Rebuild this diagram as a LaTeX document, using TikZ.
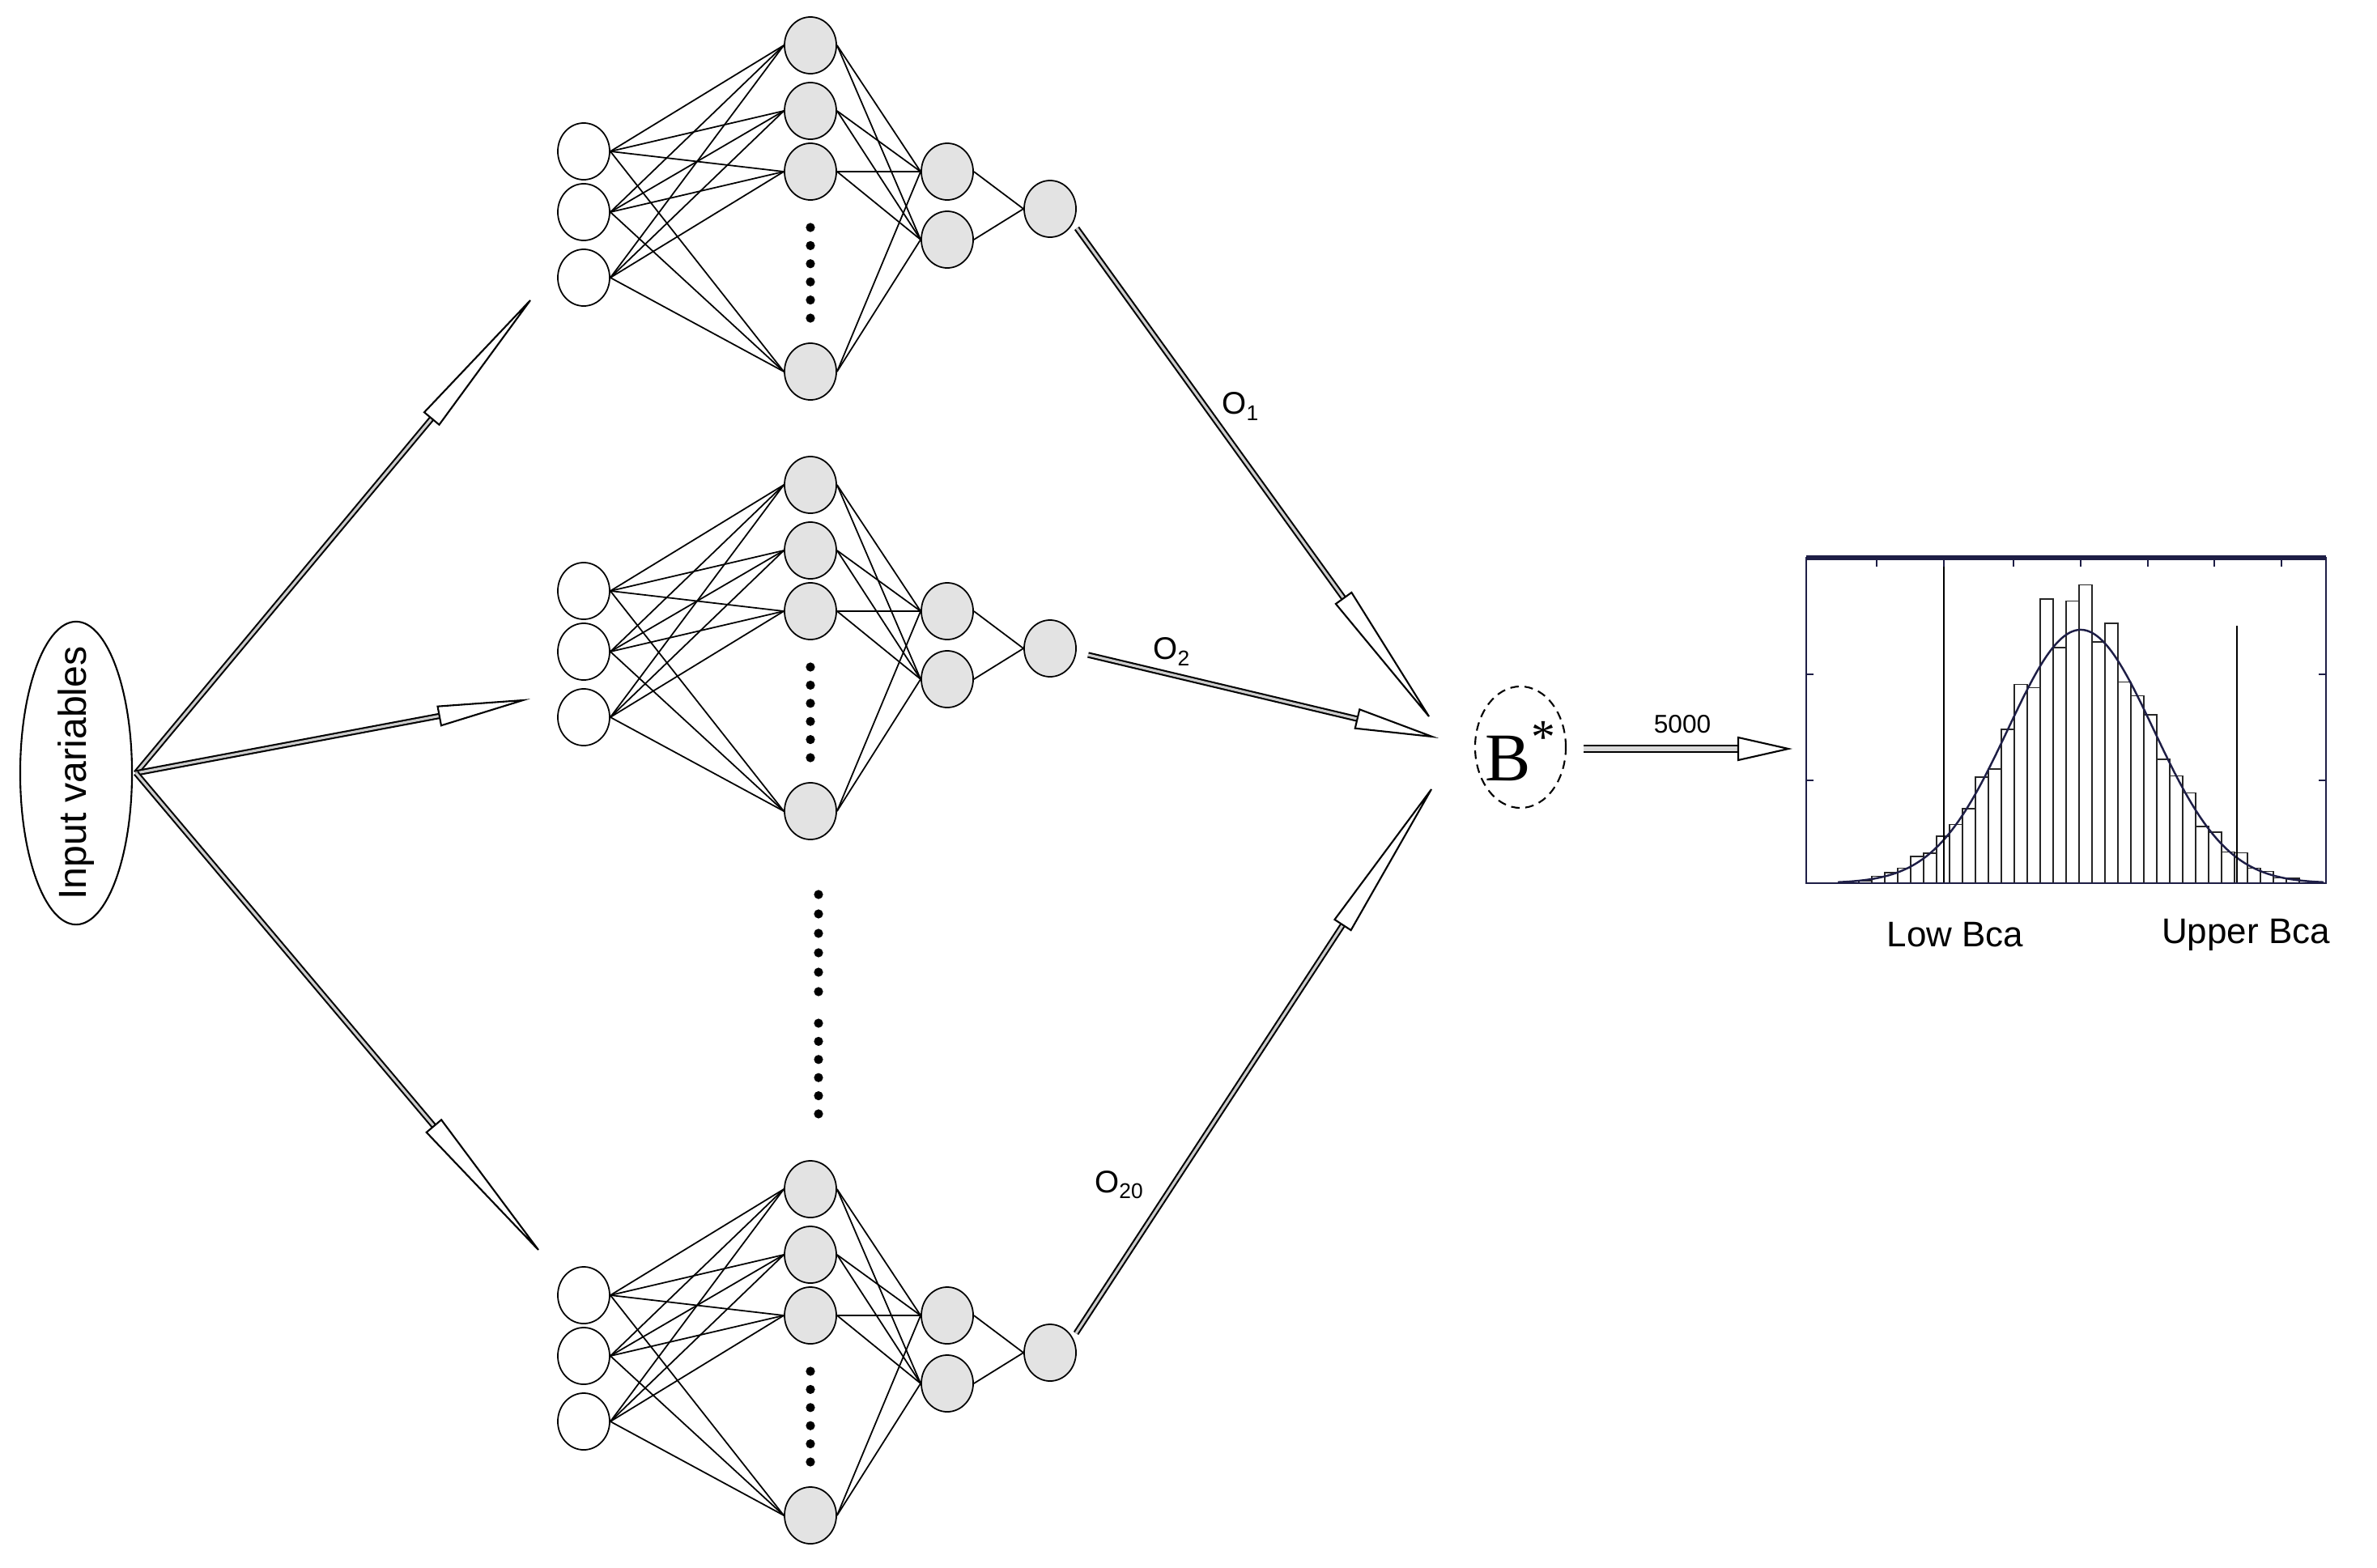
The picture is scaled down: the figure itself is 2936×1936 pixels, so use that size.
\documentclass[tikz,border=0pt]{standalone}
\usepackage{fontspec}
\setmainfont{Liberation Sans}
\newfontfamily\serifB{Liberation Serif}
\usetikzlibrary{calc,shapes.geometric}
\definecolor{navy}{RGB}{30,30,70}
\tikzset{
 inn/.style={ellipse,draw,line width=0.5pt,fill=white,minimum width=0.64cm,minimum height=0.70cm,inner sep=0pt},
 hid/.style={inn,fill=gray!22},
 conn/.style={line width=0.5pt},
 shaft/.style={double=gray!40,double distance=0.9pt,line width=0.6pt},
 headst/.style={draw,line width=0.6pt,fill=white},
 bar/.style={draw=black!85,line width=0.45pt},
 lbl/.style={font=\fontsize{11}{12}\selectfont}
}
\newcommand\osub[1]{O\raisebox{-0.35ex}{\fontsize{7.5}{8}\selectfont #1}}
\newcommand\mynet[2]{%
 \foreach \j/\yy in {1/187,2/262,3/343} \node[inn] (#1i\j) at (721,\yy+#2) {};
 \foreach \j/\yy in {1/56,2/137,3/212,4/459} \node[hid] (#1h\j) at (1001,\yy+#2) {};
 \foreach \j/\yy in {1/212,2/296} \node[hid] (#1l\j) at (1170,\yy+#2) {};
 \node[hid] (#1o) at (1297,258+#2) {};
 \foreach \a in {1,2,3} \foreach \b in {1,2,3,4} \draw[conn] (#1i\a.east) -- (#1h\b.west);
 \foreach \a in {1,2,3,4} \foreach \b in {1,2} \draw[conn] (#1h\a.east) -- (#1l\b.west);
 \foreach \a in {1,2} \draw[conn] (#1l\a.east) -- (#1o.west);
 \foreach \k in {0,...,5} \fill (1001,{281+22.4*\k+#2}) circle (1.6pt);
}
\newcommand\hollow[4]{%
 \draw[shaft] (#1) -- ($(#2)!#3!(#1)$);
 \draw[headst] ($($(#2)!#3!(#1)$)!#4!90:(#2)$) -- (#2) -- ($($(#2)!#3!(#1)$)!#4!-90:(#2)$) -- cycle;
}
\begin{document}
\begin{tikzpicture}[x=0.01cm,y=-0.01cm]
\useasboundingbox (0,0) rectangle (2936,1936);
\node[ellipse,draw,line width=0.6pt,minimum width=1.38cm,minimum height=3.74cm,inner sep=0pt] (inp) at (94,955) {};
\node[rotate=90,font=\fontsize{13.7}{15}\selectfont] at (94,955) {Input variables};
\coordinate (apex) at (168,955);
\mynet{a}{0}
\mynet{b}{543}
\mynet{c}{1413}
\foreach \k in {0,...,5} {\fill (1011,{1105+24*\k}) circle (1.6pt); \fill (1011,{1264+22.4*\k}) circle (1.6pt);}
\coordinate (ea) at (655,371);
\coordinate (eb) at (646,865);
\coordinate (ec) at (665,1544);
\hollow{apex}{ea}{1.9cm}{0.12cm}
\hollow{apex}{eb}{1.05cm}{0.12cm}
\hollow{apex}{ec}{2.0cm}{0.12cm}
\node[ellipse,draw,densely dashed,line width=0.6pt,minimum width=1.12cm,minimum height=1.5cm,inner sep=0pt] (B) at (1878,923) {};
\node[font=\serifB\fontsize{24}{26}\selectfont] at (1878,928) {B\raisebox{0.9ex}{\fontsize{17}{18}\selectfont *}};
\coordinate (sa) at (1330,282);
\coordinate (sb) at (1344,809);
\coordinate (sc) at (1329,1647);
\coordinate (ta) at (1765,885);
\coordinate (tb) at (1769,910);
\coordinate (tc) at (1768,975);
\hollow{sa}{ta}{1.8cm}{0.12cm}
\hollow{sb}{tb}{0.95cm}{0.12cm}
\hollow{sc}{tc}{2.0cm}{0.12cm}
\node[lbl] at (1532,502) {\osub{1}};
\node[lbl] at (1447,805) {\osub{2}};
\node[lbl] at (1382,1464) {\osub{20}};
\coordinate (fa) at (1956,925);
\coordinate (fb) at (2209,925);
\draw[line width=0.6pt,double=gray!30,double distance=1.6pt] (fa) -- ($(fb)!0.62cm!(fa)$);
\draw[headst] ($($(fb)!0.62cm!(fa)$)!0.14cm!90:(fb)$) -- (fb) -- ($($(fb)!0.62cm!(fa)$)!0.14cm!-90:(fb)$) -- cycle;
\node[font=\fontsize{9}{10}\selectfont] at (2078,895) {5000};
\foreach \i/\m in {0/1.0,1/0.8,2/1.3,3/1.2,4/1.1,5/1.3,6/1.0,7/1.1,8/1.0,9/0.95,10/1.05,11/0.9,12/1.0,13/1.1,14/0.95,15/1.25,16/0.97,17/1.12,18/1.18,19/0.98,20/1.12,21/0.95,22/1.0,23/1.05,24/0.93,25/1.0,26/1.08,27/0.9,28/1.1,29/0.95,30/1.35,31/1.0,32/1.2,33/0.9,34/1.3,35/1.0}
 \draw[bar] ({2280+16*\i},1091) rectangle ({2296+16*\i},{1091-313*\m*exp(-((2288+16*\i-2570)/90)^2/2)});
\draw[line width=0.7pt,navy,domain=2270:2870,samples=120,smooth] plot (\x,{1091-313*exp(-((\x-2570)/90)^2/2)});
\draw[line width=0.5pt] (2401,689) -- (2401,1091);
\draw[line width=0.5pt] (2763,773) -- (2763,1091);
\draw[navy,line width=0.8pt] (2231,689) rectangle (2873,1091);
\draw[navy,line width=1.6pt] (2231,689) -- (2873,689);
\foreach \t in {2318,2401,2487,2570,2653,2735,2818} \draw[navy,line width=0.5pt] (\t,689) -- (\t,700);
\foreach \t in {833,964} {\draw[navy,line width=0.5pt] (2231,\t) -- (2240,\t); \draw[navy,line width=0.5pt] (2873,\t) -- (2864,\t);}
\node[font=\fontsize{12.5}{14}\selectfont] at (2415,1155) {Low Bca};
\node[font=\fontsize{12.5}{14}\selectfont] at (2774,1155) {Upper Bca};
\end{tikzpicture}
\end{document}
